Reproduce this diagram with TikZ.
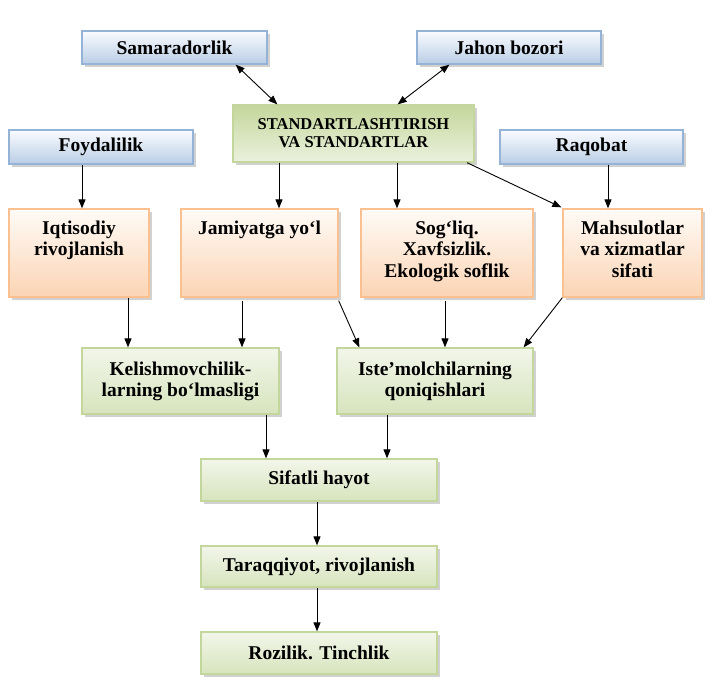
\documentclass[tikz,border=0pt]{standalone}
\usepackage{fontspec}
\setmainfont{Liberation Serif}
\usetikzlibrary{arrows.meta,shadows}
\definecolor{bluetop}{RGB}{250,252,255}
\definecolor{bluebot}{RGB}{185,205,229}
\definecolor{blueline}{RGB}{149,179,215}
\definecolor{greentop}{RGB}{242,246,234}
\definecolor{greenbot}{RGB}{215,228,189}
\definecolor{greenline}{RGB}{195,214,155}
\definecolor{orangetop}{RGB}{255,251,247}
\definecolor{orangebot}{RGB}{251,212,180}
\definecolor{orangeline}{RGB}{250,192,144}
\definecolor{stdtop}{RGB}{196,215,155}
\definecolor{stdbot}{RGB}{235,241,222}
\begin{document}
\begin{tikzpicture}[x=1pt,y=-1pt,
  box/.style={draw, line width=1.3pt, inner sep=0pt, align=center,
    drop shadow={shadow xshift=2.5pt,shadow yshift=-2.5pt,fill=black!45,opacity=0.4},
    font=\fontsize{19.5}{21}\selectfont\bfseries},
  bluebox/.style={box, draw=blueline, top color=bluetop, bottom color=bluebot},
  greenbox/.style={box, draw=greenline, top color=greentop, bottom color=greenbot},
  orangebox/.style={box, draw=orangeline, top color=orangetop, bottom color=orangebot},
  stdbox/.style={box, draw=greenline, top color=stdtop, bottom color=stdbot,
    font=\fontsize{16.5}{18}\selectfont\bfseries},
  otext/.style={inner sep=0pt, align=center, anchor=north,
    font=\fontsize{19.5}{21.5}\selectfont\bfseries},
  arr/.style={line width=0.9pt, -{Triangle[length=9pt,width=7pt]}},
  darr/.style={line width=0.9pt, {Triangle[length=9pt,width=7pt]}-{Triangle[length=9pt,width=7pt]}}
]
\useasboundingbox (0,0) rectangle (712,686);

% top row
\node[bluebox, minimum width=185pt, minimum height=33pt] (sam) at (174.5,47.5) {Samaradorlik};
\node[bluebox, minimum width=184pt, minimum height=33pt] (jah) at (509,47.5) {Jahon bozori};
\node[stdbox, minimum width=241pt, minimum height=57pt] (std) at (353.5,133.5) {STANDARTLASHTIRISH\\VA STANDARTLAR};
\node[bluebox, minimum width=184pt, minimum height=34pt] (foy) at (101,147) {Foydalilik};
\node[bluebox, minimum width=183pt, minimum height=34pt] (raq) at (591.5,147) {Raqobat};

% orange row
\node[orangebox, minimum width=140pt, minimum height=88pt] (iq) at (79,253) {};
\node[orangebox, minimum width=157pt, minimum height=88pt] (jam) at (259.5,253) {};
\node[orangebox, minimum width=172pt, minimum height=88pt] (sog) at (447,253) {};
\node[orangebox, minimum width=139pt, minimum height=88pt] (mah) at (632.5,253) {};
\node[otext] (iqt) at ([yshift=-12pt]iq.north) {Iqtisodiy\\rivojlanish};
\node[otext] (jamt) at ([yshift=-12pt]jam.north) {Jamiyatga yo‘l};
\node[otext] (sogt) at ([yshift=-12pt]sog.north) {Sog‘liq.\\Xavfsizlik.\\Ekologik soflik};
\node[otext] (maht) at ([yshift=-12pt]mah.north) {Mahsulotlar\\va xizmatlar\\sifati};

% green rows
\node[greenbox, minimum width=197pt, minimum height=66pt] (kel) at (180.5,381) {Kelishmovchilik-\\larning bo‘lmasligi};
\node[greenbox, minimum width=196pt, minimum height=66pt] (ist) at (435,381) {Iste’molchilarning\\qoniqishlari};
\node[greenbox, minimum width=236pt, minimum height=42pt] (sif) at (319,480) {Sifatli hayot};
\node[greenbox, minimum width=236pt, minimum height=41pt] (tar) at (319,566.5) {Taraqqiyot, rivojlanish};
\node[greenbox, minimum width=236pt, minimum height=42pt] (roz) at (319,653) {Rozilik. Tinchlik};

% connectors
\draw[darr] ([xshift=-32pt]sam.south east) -- ([xshift=45pt]std.north west);
\draw[darr] ([xshift=33pt]jah.south west) -- ([xshift=-77pt]std.north east);
\coordinate (a1) at ([xshift=-19pt]foy.south);
\draw[arr] (a1) -- (a1 |- iq.north);
\coordinate (a2) at ([xshift=-74.5pt]std.south);
\draw[arr] (a2) -- (a2 |- jam.north);
\coordinate (a3) at ([xshift=43.5pt]std.south);
\draw[arr] (a3) -- (a3 |- sog.north);
\draw[arr] ([xshift=113.5pt]std.south) -- ([xshift=-1pt,yshift=1pt]mah.north west);
\coordinate (a4) at ([xshift=16.5pt]raq.south);
\draw[arr] (a4) -- (a4 |- mah.north);
\coordinate (b1) at ([xshift=49pt]iq.south);
\draw[arr] (b1) -- (b1 |- kel.north);
\coordinate (b2) at ([xshift=-17.5pt,yshift=-3pt]jam.south);
\draw[arr] (b2) -- (b2 |- kel.north);
\draw[arr] ([yshift=-3pt]jam.south east) -- ([xshift=23pt]ist.north west);
\coordinate (b3) at ([xshift=-2pt,yshift=-3pt]sog.south);
\draw[arr] (b3) -- (b3 |- ist.north);
\draw[arr] (mah.south west) -- ([xshift=-10pt]ist.north east);
\coordinate (c1) at ([xshift=85.5pt]kel.south);
\draw[arr] (c1) -- (c1 |- sif.north);
\coordinate (c2) at ([xshift=-48pt]ist.south);
\draw[arr] (c2) -- (c2 |- sif.north);
\coordinate (c3) at ([xshift=-2pt]sif.south);
\draw[arr] (c3) -- (c3 |- tar.north);
\coordinate (c4) at ([xshift=-2pt]tar.south);
\draw[arr] (c4) -- (c4 |- roz.north);
\end{tikzpicture}
\end{document}
